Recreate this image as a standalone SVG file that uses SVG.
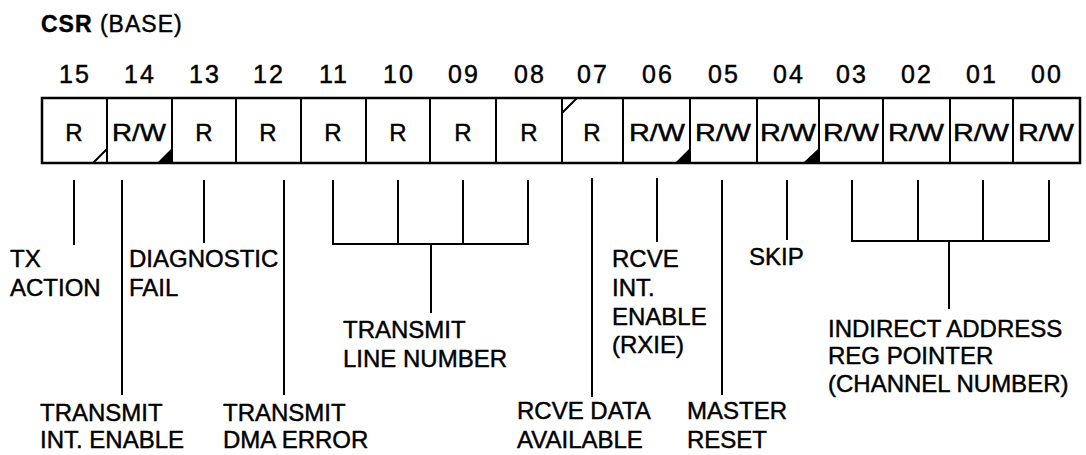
<svg xmlns="http://www.w3.org/2000/svg" width="1086" height="455" viewBox="0 0 1086 455">
<style>
text{font-family:"Liberation Sans",Arial,sans-serif;fill:#000;stroke:#000;stroke-width:0.45}
.num{font-size:25px;text-anchor:middle;letter-spacing:2px}
.cell{font-size:24px;text-anchor:middle}
.lbl{font-size:24px}
.ln{stroke:#000;stroke-width:2;fill:none}
.bd{stroke:#000;stroke-width:2.5;fill:none}
</style>
<rect width="1086" height="455" fill="#fff"/>
<text x="41" y="32" font-size="23" letter-spacing="1"><tspan font-weight="bold">CSR</tspan> (BASE)</text>
<g id="bitnumbers">
<text class="num" x="75" y="83">15</text>
<text class="num" x="140" y="83">14</text>
<text class="num" x="205" y="83">13</text>
<text class="num" x="269" y="83">12</text>
<text class="num" x="334" y="83">11</text>
<text class="num" x="399" y="83">10</text>
<text class="num" x="464" y="83">09</text>
<text class="num" x="530" y="83">08</text>
<text class="num" x="593" y="83">07</text>
<text class="num" x="658" y="83">06</text>
<text class="num" x="724" y="83">05</text>
<text class="num" x="789" y="83">04</text>
<text class="num" x="852" y="83">03</text>
<text class="num" x="917" y="83">02</text>
<text class="num" x="982" y="83">01</text>
<text class="num" x="1047" y="83">00</text>
</g>
<g id="register">
<rect class="bd" x="42" y="98" width="1038" height="65"/>
<path class="ln" d="M107 98V163M172 98V163M236 98V163M301 98V163M366 98V163M430 98V163M496 98V163M562 98V163M623 98V163M690 98V163M757 98V163M819 98V163M883 98V163M950 98V163M1013 98V163"/>
<path class="ln" stroke-width="1.6" d="M93 163L107 149M562 113L577 98"/>
<path d="M157 163L172 163L172 148Z M675 163L690 163L690 148Z M803 163L819 163L819 148Z" fill="#000"/>
<text class="cell" x="74" y="141">R</text>
<text class="cell" x="139" y="141" textLength="54" lengthAdjust="spacingAndGlyphs">R/W</text>
<text class="cell" x="204" y="141">R</text>
<text class="cell" x="268" y="141">R</text>
<text class="cell" x="333" y="141">R</text>
<text class="cell" x="398" y="141">R</text>
<text class="cell" x="463" y="141">R</text>
<text class="cell" x="529" y="141">R</text>
<text class="cell" x="592" y="141">R</text>
<text class="cell" x="657" y="141" textLength="56" lengthAdjust="spacingAndGlyphs">R/W</text>
<text class="cell" x="723" y="141" textLength="56" lengthAdjust="spacingAndGlyphs">R/W</text>
<text class="cell" x="788" y="141" textLength="56" lengthAdjust="spacingAndGlyphs">R/W</text>
<text class="cell" x="851" y="141" textLength="56" lengthAdjust="spacingAndGlyphs">R/W</text>
<text class="cell" x="916" y="141" textLength="56" lengthAdjust="spacingAndGlyphs">R/W</text>
<text class="cell" x="981" y="141" textLength="56" lengthAdjust="spacingAndGlyphs">R/W</text>
<text class="cell" x="1046" y="141" textLength="56" lengthAdjust="spacingAndGlyphs">R/W</text>
</g>
<g id="connectors">
<path class="ln" d="M74 180V245"/>
<path class="ln" d="M122 180V395"/>
<path class="ln" d="M204 180V243"/>
<path class="ln" d="M284 180V395"/>
<path class="ln" d="M333 180V244H528V180M398 180V244M463 180V244M431 244V313"/>
<path class="ln" d="M592 178V397"/>
<path class="ln" d="M657 178V242"/>
<path class="ln" d="M722 180V395"/>
<path class="ln" d="M787 180V240"/>
<path class="ln" d="M852 180V241H1049V180M918 180V241M983 180V241M949 241V309"/>
</g>
<g id="label-tx-action"><text class="lbl" x="10" y="267">TX</text><text class="lbl" x="10" y="296">ACTION</text></g>
<g id="label-transmit-int-enable"><text class="lbl" x="40" y="421">TRANSMIT</text><text class="lbl" x="40" y="448">INT. ENABLE</text></g>
<g id="label-diagnostic-fail"><text class="lbl" x="129" y="267">DIAGNOSTIC</text><text class="lbl" x="129" y="296">FAIL</text></g>
<g id="label-transmit-dma-error"><text class="lbl" x="223" y="421">TRANSMIT</text><text class="lbl" x="223" y="448">DMA ERROR</text></g>
<g id="label-transmit-line-number"><text class="lbl" x="343" y="338">TRANSMIT</text><text class="lbl" x="343" y="367">LINE NUMBER</text></g>
<g id="label-rcve-data-available"><text class="lbl" x="517" y="419">RCVE DATA</text><text class="lbl" x="517" y="448">AVAILABLE</text></g>
<g id="label-rcve-int-enable"><text class="lbl" x="612" y="267">RCVE</text><text class="lbl" x="612" y="296">INT.</text><text class="lbl" x="612" y="325">ENABLE</text><text class="lbl" x="612" y="353">(RXIE)</text></g>
<g id="label-master-reset"><text class="lbl" x="687" y="419">MASTER</text><text class="lbl" x="687" y="448">RESET</text></g>
<g id="label-skip"><text class="lbl" x="749" y="265">SKIP</text></g>
<g id="label-indirect-address"><text class="lbl" x="828" y="337">INDIRECT ADDRESS</text><text class="lbl" x="828" y="364">REG POINTER</text><text class="lbl" x="828" y="392">(CHANNEL NUMBER)</text></g>
</svg>
